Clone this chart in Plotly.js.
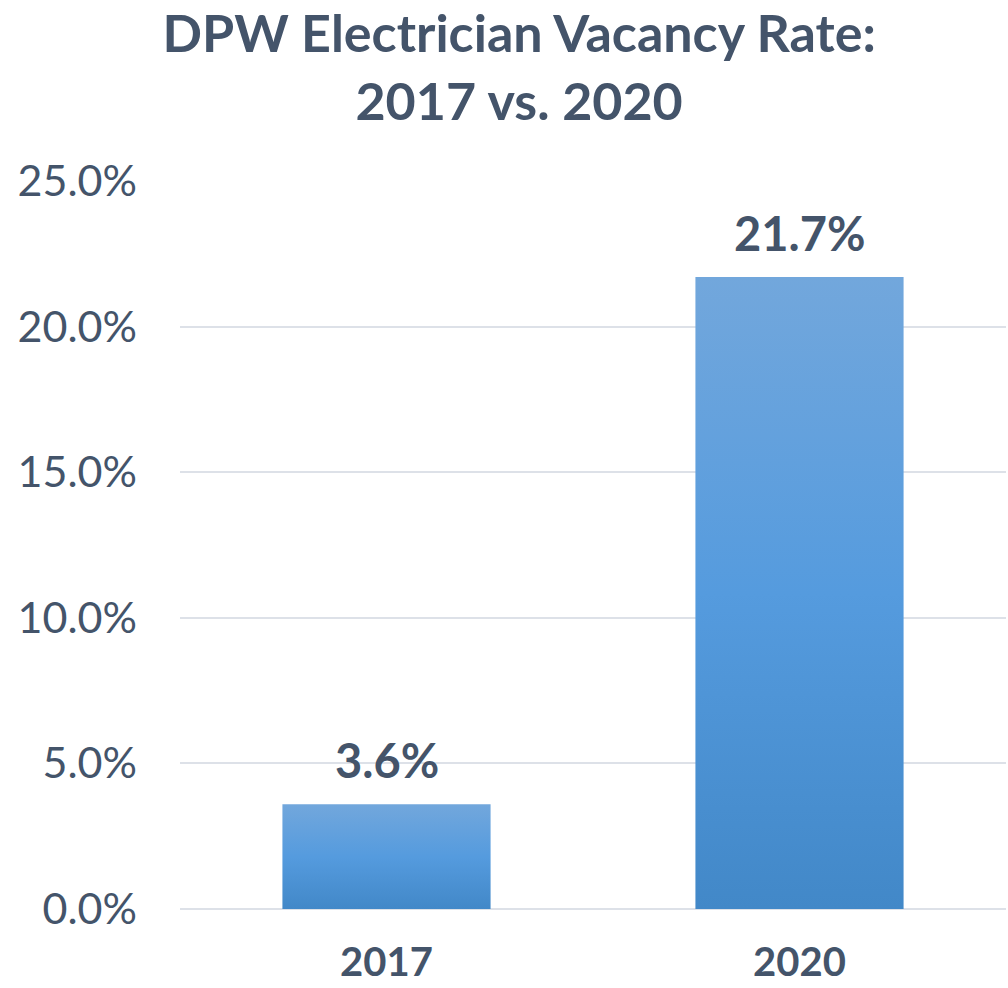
<!DOCTYPE html>
<html>
<head>
<meta charset="utf-8">
<script src="https://cdn.plot.ly/plotly-3.0.1.min.js"></script>
<style>html,body{margin:0;padding:0;background:#fff;}#chart{width:1008px;height:988px;}</style>
</head>
<body>
<div id="chart"></div>
<script>
const categories = ["2017", "2020"];
const vacancyRate = [3.6, 21.7];
const yTickVals = [0, 5, 10, 15, 20, 25];
const yTickText = ["0.0%", "5.0%", "10.0%", "15.0%", "20.0%", "25.0%"];
const titleText = "DPW Electrician Vacancy Rate:<br>2017 vs. 2020";

const textColor = "#44546A";
const fontFam = "Lato, Carlito, Calibri, sans-serif";

const trace = {
  type: "bar",
  x: categories,
  y: vacancyRate,
  marker: { color: "#5b9bd5", line: { width: 0 } },
  hoverinfo: "none"
};

const annotations = categories.map((c, i) => ({
  x: i, y: vacancyRate[i], xref: "x", yref: "y",
  text: "<b>" + vacancyRate[i].toFixed(1) + "%</b>",
  showarrow: false, yanchor: "bottom", yshift: 14,
  font: { family: fontFam, size: 47, color: textColor, weight: "bold" }
}));

const layout = {
  width: 1008, height: 988,
  margin: { l: 180, r: 2, t: 181, b: 79 },
  paper_bgcolor: "#ffffff", plot_bgcolor: "#ffffff",
  showlegend: false,
  bargap: 0.496,
  title: {
    text: "<b>" + titleText + "</b>",
    font: { family: fontFam, size: 52, color: textColor, weight: "bold" },
    xref: "container", x: 0.515, xanchor: "center",
    yref: "container", y: 0.947, yanchor: "top"
  },
  xaxis: {
    type: "category",
    range: [-0.5, 1.5], autorange: false,
    showgrid: false, zeroline: false, showline: false, ticks: "",
    tickfont: { family: fontFam, size: 40, color: textColor, weight: "bold" },
    ticklabelstandoff: 26
  },
  yaxis: {
    range: [0, 25], autorange: false,
    tickvals: yTickVals, ticktext: yTickText,
    showgrid: true, gridcolor: "#dde1e8", gridwidth: 2,
    zeroline: true, zerolinecolor: "#dde1e8", zerolinewidth: 2,
    showline: false, ticks: "",
    tickfont: { family: fontFam, size: 43, color: textColor },
    ticklabelstandoff: 42
  },
  annotations: annotations
};

Plotly.newPlot("chart", [trace], layout, { displayModeBar: false, staticPlot: true }).then(function (gd) {
  const svg = gd.querySelector("svg.main-svg");
  const ns = "http://www.w3.org/2000/svg";
  let defs = svg.querySelector("defs");
  if (!defs) { defs = document.createElementNS(ns, "defs"); svg.insertBefore(defs, svg.firstChild); }
  const grad = document.createElementNS(ns, "linearGradient");
  grad.setAttribute("id", "barGrad");
  grad.setAttribute("x1", "0"); grad.setAttribute("y1", "0");
  grad.setAttribute("x2", "0"); grad.setAttribute("y2", "1");
  [["0", "#72a7dc"], ["0.5", "#559bde"], ["1", "#4288c8"]].forEach(function (s) {
    const st = document.createElementNS(ns, "stop");
    st.setAttribute("offset", s[0]); st.setAttribute("stop-color", s[1]);
    grad.appendChild(st);
  });
  defs.appendChild(grad);
  gd.querySelectorAll(".bars path").forEach(function (p) { p.style.fill = "url(#barGrad)"; });
});
</script>
</body>
</html>
